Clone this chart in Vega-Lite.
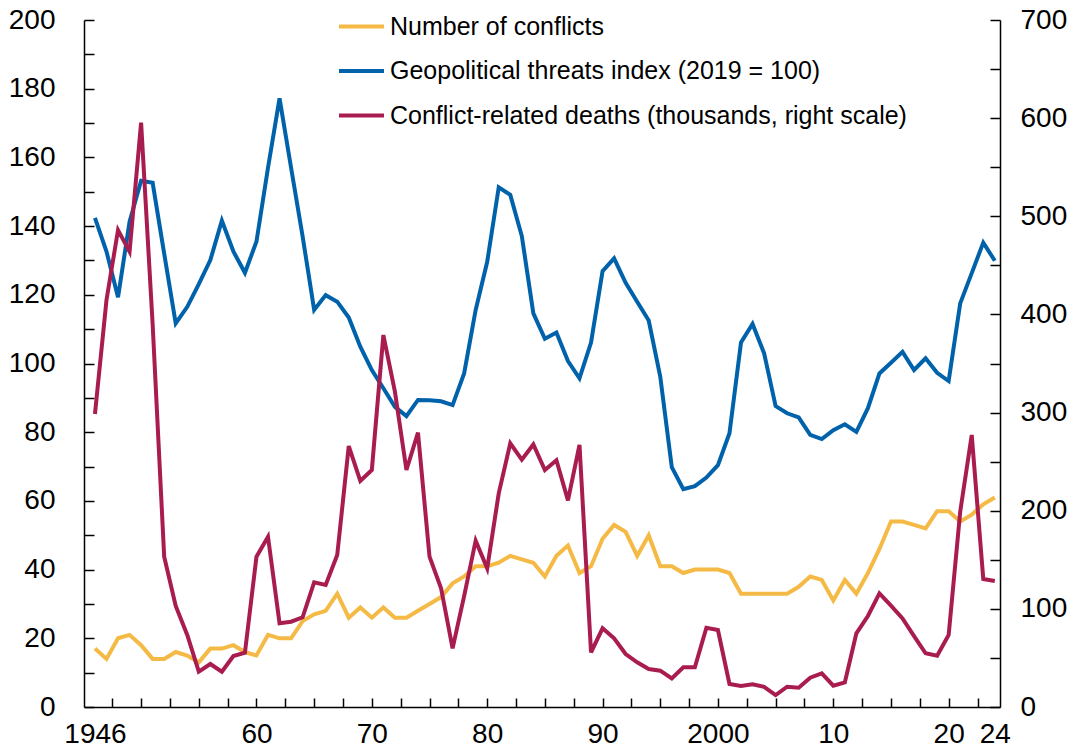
{
  "$schema": "https://vega.github.io/schema/vega-lite/v6.json",
  "width": 916,
  "height": 687,
  "autosize": {"type": "none"},
  "padding": {"left": 84, "top": 20, "right": 76, "bottom": 45},
  "background": "white",
  "config": {
    "view": {"stroke": null},
    "font": "Liberation Sans, Arial, sans-serif",
    "axis": {"grid": false, "title": null, "domainColor": "#000000", "tickColor": "#000000", "labelColor": "#000000", "domainWidth": 1.5, "tickWidth": 1.5, "labelFontSize": 28, "labelOverlap": false, "labelBound": false, "labelFlush": false}
  },
  "data": {
    "values": [
      {"year": 1946, "conflicts": 17, "threats": 142.4, "deaths": 298.5},
      {"year": 1947, "conflicts": 14, "threats": 132.6, "deaths": 414.7},
      {"year": 1948, "conflicts": 20, "threats": 119.3, "deaths": 486},
      {"year": 1949, "conflicts": 21, "threats": 141.3, "deaths": 464},
      {"year": 1950, "conflicts": 18, "threats": 153.2, "deaths": 595.4},
      {"year": 1951, "conflicts": 14, "threats": 152.6, "deaths": 390},
      {"year": 1952, "conflicts": 14, "threats": 132, "deaths": 153.2},
      {"year": 1953, "conflicts": 16, "threats": 111.7, "deaths": 102.9},
      {"year": 1954, "conflicts": 15, "threats": 116.5, "deaths": 73.4},
      {"year": 1955, "conflicts": 13, "threats": 123.1, "deaths": 36},
      {"year": 1956, "conflicts": 17, "threats": 130.1, "deaths": 43.8},
      {"year": 1957, "conflicts": 17, "threats": 141.6, "deaths": 36},
      {"year": 1958, "conflicts": 18, "threats": 132.6, "deaths": 52},
      {"year": 1959, "conflicts": 16, "threats": 126.4, "deaths": 55.3},
      {"year": 1960, "conflicts": 15, "threats": 135.5, "deaths": 153.2},
      {"year": 1961, "conflicts": 21, "threats": 157, "deaths": 173.5},
      {"year": 1962, "conflicts": 20, "threats": 177.2, "deaths": 85.3},
      {"year": 1963, "conflicts": 20, "threats": 157, "deaths": 86.9},
      {"year": 1964, "conflicts": 25, "threats": 137, "deaths": 91.4},
      {"year": 1965, "conflicts": 27, "threats": 115.6, "deaths": 127},
      {"year": 1966, "conflicts": 28, "threats": 119.9, "deaths": 124.3},
      {"year": 1967, "conflicts": 33, "threats": 118, "deaths": 154.9},
      {"year": 1968, "conflicts": 26, "threats": 113.4, "deaths": 265.9},
      {"year": 1969, "conflicts": 29, "threats": 104.9, "deaths": 230.3},
      {"year": 1970, "conflicts": 26, "threats": 98.1, "deaths": 241.5},
      {"year": 1971, "conflicts": 29, "threats": 92.8, "deaths": 379},
      {"year": 1972, "conflicts": 26, "threats": 87.4, "deaths": 321.3},
      {"year": 1973, "conflicts": 26, "threats": 84.7, "deaths": 241.5},
      {"year": 1974, "conflicts": 28, "threats": 89.4, "deaths": 279.5},
      {"year": 1975, "conflicts": 30, "threats": 89.3, "deaths": 153.2},
      {"year": 1976, "conflicts": 32, "threats": 89, "deaths": 121},
      {"year": 1977, "conflicts": 36, "threats": 87.9, "deaths": 59.8},
      {"year": 1978, "conflicts": 38, "threats": 97.1, "deaths": 113},
      {"year": 1979, "conflicts": 41, "threats": 115.6, "deaths": 169.5},
      {"year": 1980, "conflicts": 41, "threats": 129.6, "deaths": 141.3},
      {"year": 1981, "conflicts": 42, "threats": 151.3, "deaths": 217.7},
      {"year": 1982, "conflicts": 44, "threats": 149.1, "deaths": 268.7},
      {"year": 1983, "conflicts": 43, "threats": 137.1, "deaths": 252},
      {"year": 1984, "conflicts": 42, "threats": 114.6, "deaths": 267.5},
      {"year": 1985, "conflicts": 38, "threats": 107.2, "deaths": 241.5},
      {"year": 1986, "conflicts": 44, "threats": 109, "deaths": 251.5},
      {"year": 1987, "conflicts": 47, "threats": 100.7, "deaths": 210.5},
      {"year": 1988, "conflicts": 39, "threats": 95.7, "deaths": 267},
      {"year": 1989, "conflicts": 41, "threats": 106.1, "deaths": 55.7},
      {"year": 1990, "conflicts": 49, "threats": 126.9, "deaths": 80.2},
      {"year": 1991, "conflicts": 53, "threats": 130.6, "deaths": 70},
      {"year": 1992, "conflicts": 51, "threats": 123.5, "deaths": 54},
      {"year": 1993, "conflicts": 44, "threats": 118, "deaths": 45.5},
      {"year": 1994, "conflicts": 50, "threats": 112.5, "deaths": 38.7},
      {"year": 1995, "conflicts": 41, "threats": 96.2, "deaths": 37},
      {"year": 1996, "conflicts": 41, "threats": 69.8, "deaths": 29.2},
      {"year": 1997, "conflicts": 39, "threats": 63.4, "deaths": 40.4},
      {"year": 1998, "conflicts": 40, "threats": 64.3, "deaths": 40.4},
      {"year": 1999, "conflicts": 40, "threats": 66.8, "deaths": 80.8},
      {"year": 2000, "conflicts": 40, "threats": 70.4, "deaths": 78.5},
      {"year": 2001, "conflicts": 39, "threats": 79.7, "deaths": 23.4},
      {"year": 2002, "conflicts": 33, "threats": 106.1, "deaths": 21.4},
      {"year": 2003, "conflicts": 33, "threats": 111.5, "deaths": 23.1},
      {"year": 2004, "conflicts": 33, "threats": 103, "deaths": 20.5},
      {"year": 2005, "conflicts": 33, "threats": 87.6, "deaths": 12.2},
      {"year": 2006, "conflicts": 33, "threats": 85.5, "deaths": 20.7},
      {"year": 2007, "conflicts": 35, "threats": 84.3, "deaths": 19.7},
      {"year": 2008, "conflicts": 38, "threats": 79.2, "deaths": 29.9},
      {"year": 2009, "conflicts": 37, "threats": 78, "deaths": 34.3},
      {"year": 2010, "conflicts": 31, "threats": 80.6, "deaths": 21.7},
      {"year": 2011, "conflicts": 37, "threats": 82.3, "deaths": 25.1},
      {"year": 2012, "conflicts": 33, "threats": 80.1, "deaths": 75},
      {"year": 2013, "conflicts": 39, "threats": 87, "deaths": 92.7},
      {"year": 2014, "conflicts": 46, "threats": 97.1, "deaths": 115.8},
      {"year": 2015, "conflicts": 54, "threats": 100.2, "deaths": 103.3},
      {"year": 2016, "conflicts": 54, "threats": 103.4, "deaths": 90.3},
      {"year": 2017, "conflicts": 53, "threats": 98.1, "deaths": 72.3},
      {"year": 2018, "conflicts": 52, "threats": 101.5, "deaths": 54.7},
      {"year": 2019, "conflicts": 57, "threats": 97.3, "deaths": 52.3},
      {"year": 2020, "conflicts": 57, "threats": 94.9, "deaths": 73.4},
      {"year": 2021, "conflicts": 54, "threats": 117.5, "deaths": 199},
      {"year": 2022, "conflicts": 56, "threats": 126.3, "deaths": 277.2},
      {"year": 2023, "conflicts": 59, "threats": 135.2, "deaths": 130.4},
      {"year": 2024, "conflicts": 61, "threats": 129.9, "deaths": 128.4}
    ]
  },
  "resolve": {"scale": {"y": "independent"}, "axis": {"x": "independent", "y": "independent"}},
  "layer": [
    {
      "mark": {"type": "line", "strokeWidth": 4},
      "encoding": {
        "x": {"field": "year", "type": "quantitative", "scale": {"domain": [1945.05, 2024.45], "nice": false, "zero": false},
          "axis": {"orient": "bottom", "values": [1947.5, 1950, 1952.5, 1955, 1957.5, 1960, 1962.5, 1965, 1967.5, 1970, 1972.5, 1975, 1977.5, 1980, 1982.5, 1985, 1987.5, 1990, 1992.5, 1995, 1997.5, 2000, 2002.5, 2005, 2007.5, 2010, 2012.5, 2015, 2017.5, 2020, 2022.5], "labels": false, "tickSize": -9, "domain": true}},
        "y": {"field": "conflicts", "type": "quantitative", "scale": {"domain": [0, 200], "nice": false},
          "axis": {"orient": "left", "values": [0, 10, 20, 30, 40, 50, 60, 70, 80, 90, 100, 110, 120, 130, 140, 150, 160, 170, 180, 190, 200], "labels": false, "tickSize": -10, "domain": true}},
        "color": {"datum": "Number of conflicts", "type": "nominal",
          "scale": {"domain": ["Number of conflicts", "Geopolitical threats index (2019 = 100)", "Conflict-related deaths (thousands, right scale)"], "range": ["#F5BA45", "#0062AA", "#A91C50"]},
          "legend": {"title": null, "orient": "none", "legendX": 253, "legendY": -18, "direction": "vertical", "symbolType": "stroke", "symbolSize": 2025, "symbolStrokeWidth": 4, "labelFontSize": 25, "labelOffset": 4, "rowPadding": 6.5, "padding": 0, "labelLimit": 700, "labelColor": "#000000"}}
      }
    },
    {
      "mark": {"type": "line", "strokeWidth": 4},
      "encoding": {
        "x": {"field": "year", "type": "quantitative",
          "axis": {"orient": "bottom", "values": [1946, 1960, 1970, 1980, 1990, 2000, 2010, 2020, 2024], "ticks": false, "domain": false, "labelPadding": 13, "labelExpr": "datum.value == 1946 || datum.value == 2000 ? toString(datum.value) : substring(toString(datum.value), 2, 4)"}},
        "y": {"field": "threats", "type": "quantitative", "scale": {"domain": [0, 200], "nice": false},
          "axis": {"orient": "left", "values": [0, 20, 40, 60, 80, 100, 120, 140, 160, 180, 200], "ticks": false, "domain": false, "labelPadding": 29}},
        "color": {"datum": "Geopolitical threats index (2019 = 100)", "type": "nominal"}
      }
    },
    {
      "mark": {"type": "line", "strokeWidth": 4},
      "encoding": {
        "x": {"field": "year", "type": "quantitative", "axis": null},
        "y": {"field": "deaths", "type": "quantitative", "scale": {"domain": [0, 700], "nice": false},
          "axis": {"orient": "right", "values": [0, 50, 100, 150, 200, 250, 300, 350, 400, 450, 500, 550, 600, 650, 700], "labels": false, "tickSize": -10, "domain": true}},
        "color": {"datum": "Conflict-related deaths (thousands, right scale)", "type": "nominal"}
      }
    },
    {
      "mark": {"type": "line", "strokeOpacity": 0},
      "encoding": {
        "x": {"field": "year", "type": "quantitative", "axis": null},
        "y": {"field": "deaths", "type": "quantitative", "scale": {"domain": [0, 700], "nice": false},
          "axis": {"orient": "right", "values": [0, 100, 200, 300, 400, 500, 600, 700], "ticks": false, "domain": false, "labelPadding": 20}}
      }
    }
  ]
}
